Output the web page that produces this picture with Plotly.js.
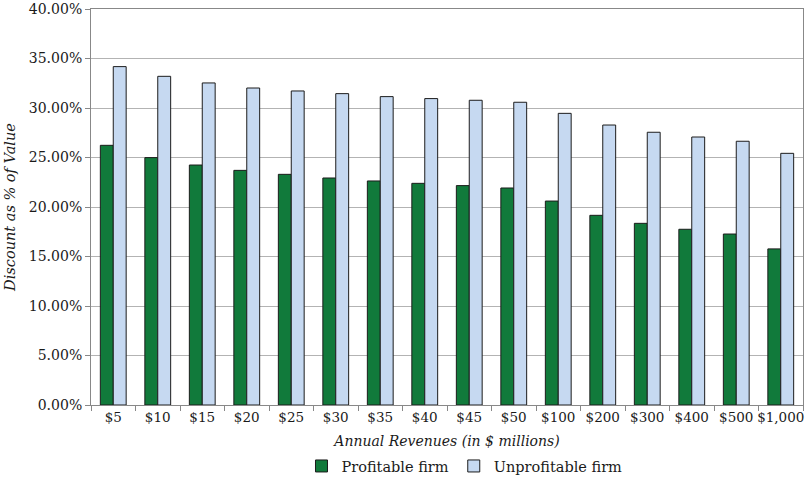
<!DOCTYPE html>
<html>
<head>
<meta charset="utf-8">
<script src="https://cdn.plot.ly/plotly-3.0.1.min.js"></script>
<style>
  html, body { margin: 0; padding: 0; background: #fff; }
  #chart { width: 805px; height: 477px; }
</style>
</head>
<body>
<div id="chart"></div>
<script>
// Discount by annual revenue
const revenues = ["$5", "$10", "$15", "$20", "$25", "$30", "$35", "$40",
    "$45", "$50", "$100", "$200", "$300", "$400", "$500", "$1,000"];

const profitable = [26.23, 24.99, 24.24, 23.70, 23.30, 22.93, 22.63, 22.39,
    22.16, 21.92, 20.60, 19.16, 18.35, 17.75, 17.27, 15.77];

const unprofitable = [34.18, 33.20, 32.53, 32.02, 31.72, 31.45, 31.15, 30.95,
    30.78, 30.58, 29.46, 28.28, 27.55, 27.07, 26.64, 25.42];

const yTicks = [0, 5, 10, 15, 20, 25, 30, 35, 40];

// only DejaVu Serif shows up as a serif face here
const serif = "DejaVu Serif";
const textColor = "#1a1a1a";

const traces = [
    {
        x: revenues,
        y: profitable,
        type: 'bar',
        name: 'Profitable firm',
        marker: { color: '#117a3b', line: { color: '#1c1c1c', width: 1 } }
    },
    {
        x: revenues,
        y: unprofitable,
        type: 'bar',
        name: 'Unprofitable firm',
        marker: { color: '#c6d9f1', line: { color: '#1c1c1c', width: 1 } }
    }
];

const layout = {
    width: 805,
    height: 477,
    margin: { l: 91, r: 2, t: 9, b: 72 },
    paper_bgcolor: '#fff',
    plot_bgcolor: '#fff',
    barmode: 'group',
    bargap: 0.42,
    bargroupgap: 0,
    font: { family: serif, size: 14, color: textColor },
    showlegend: true,
    legend: {
        orientation: 'h',
        x: 0.577,
        xref: 'container',
        xanchor: 'center',
        y: 0.023,
        yref: 'container',
        yanchor: 'middle',
        font: { family: serif, size: 14.5, color: textColor },
        traceorder: 'normal'
    },
    xaxis: {
        type: 'category',
        tickson: 'boundaries',
        ticks: 'outside',
        ticklen: 5,
        tickcolor: '#888',
        tickangle: 0,
        showline: true,
        linecolor: '#888',
        linewidth: 1,
        mirror: true,
        showgrid: false,
        ticklabeloverflow: 'allow',
        tickfont: { family: serif, size: 13.5, color: textColor },
        title: {
            text: 'Annual Revenues (in $ millions)',
            font: { family: serif, size: 14, color: textColor, style: 'italic' },
            standoff: 11
        },
        automargin: false
    },
    yaxis: {
        range: [0, 40],
        tickvals: yTicks,
        ticktext: yTicks.map(v => v.toFixed(2) + '%'),
        ticks: 'outside',
        ticklen: 5,
        tickcolor: '#888',
        showline: true,
        linecolor: '#888',
        linewidth: 1,
        mirror: true,
        showgrid: true,
        gridcolor: '#b3b3b3',
        gridwidth: 1,
        zeroline: false,
        ticklabeloverflow: 'allow',
        tickfont: { family: serif, size: 14, color: textColor },
        title: {
            text: 'Discount as % of Value',
            font: { family: serif, size: 14.5, color: textColor, style: 'italic' },
            standoff: 9
        },
        automargin: false
    }
};

Plotly.newPlot('chart', traces, layout, { displayModeBar: false, staticPlot: true });
</script>
</body>
</html>
